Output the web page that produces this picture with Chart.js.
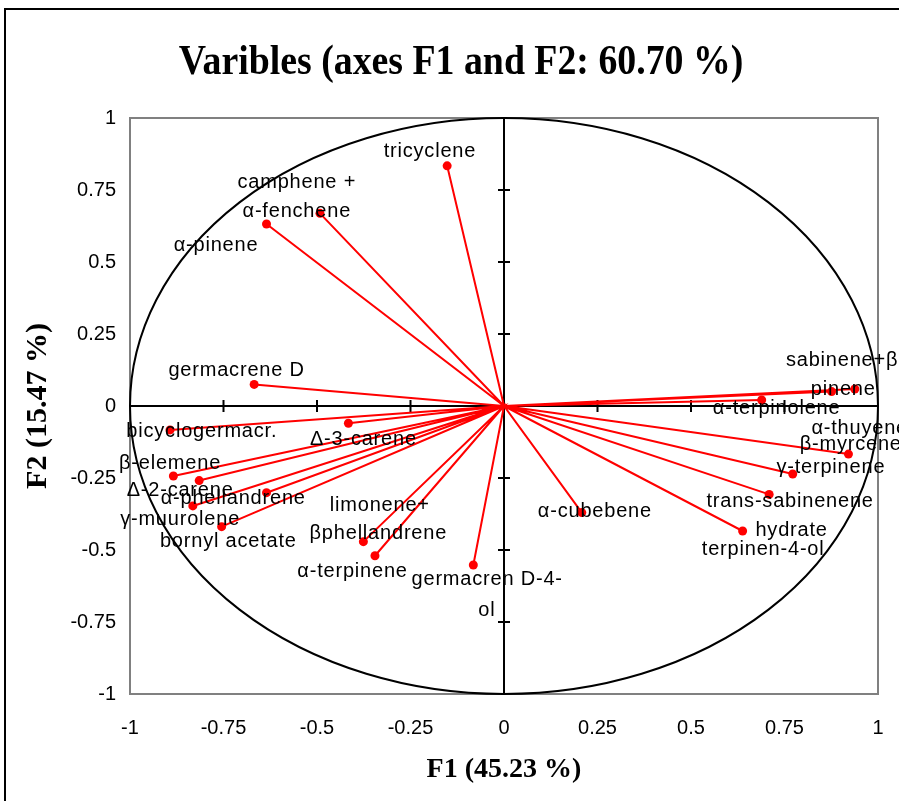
<!DOCTYPE html>
<html>
<head>
<meta charset="utf-8">
<script src="https://cdn.jsdelivr.net/npm/chart.js@4.4.1/dist/chart.umd.min.js"></script>
<style>
  html, body { margin: 0; padding: 0; background: #fff; }
</style>
</head>
<body>
<canvas id="pca" width="899" height="801"></canvas>
<script>
// loadings of each compound on the first two factors
const variables = [
  'tricyclene', 'camphene + α-fenchene', 'α-pinene', 'germacrene D',
  'bicyclogermacr.', 'Δ-3-carene', 'β-elemene', 'Δ-2-carene',
  'α-phellandrene', 'γ-muurolene', 'bornyl acetate', 'limonene+βphellandrene',
  'α-terpinene', 'germacren D-4-ol', 'α-cubebene', 'terpinen-4-ol',
  'trans-sabinenene hydrate', 'γ-terpinene', 'β-myrcene', 'α-thuyene',
  'sabinene+β-pinene', 'α-terpinolene'
];
const f1 = [
  -0.152, -0.492, -0.635, -0.668,
  -0.893, -0.416, -0.884, -0.815,
  -0.635, -0.832, -0.755, -0.376,
  -0.345, -0.082, 0.208, 0.638,
  0.709, 0.772, 0.921, 0.876,
  0.938, 0.689
];
const f2 = [
  0.834, 0.669, 0.632, 0.075,
  -0.083, -0.060, -0.243, -0.259,
  -0.301, -0.347, -0.419, -0.471,
  -0.520, -0.552, -0.370, -0.434,
  -0.307, -0.236, -0.167, 0.050,
  0.059, 0.021
];
const axisTicks = [-1, -0.75, -0.5, -0.25, 0, 0.25, 0.5, 0.75, 1];

// text of the point labels, one entry per line, with its centre in factor units
const labelLines = [
  'tricyclene', 'camphene +', 'α-fenchene', 'α-pinene', 'germacrene D',
  'bicyclogermacr.', 'Δ-3-carene', 'β-elemene', 'Δ-2-carene', 'α-phellandrene',
  'γ-muurolene', 'bornyl acetate', 'limonene+', 'βphellandrene', 'α-terpinene',
  'germacren D-4-', 'ol', 'α-cubebene', 'trans-sabinenene', 'hydrate',
  'terpinen-4-ol', 'γ-terpinene', 'β-myrcene', 'α-thuyene', 'sabinene+β-',
  'pinene', 'α-terpinolene'
];
const labelF1 = [
  -0.198, -0.554, -0.554, -0.770, -0.715,
  -0.808, -0.376, -0.893, -0.866, -0.724,
  -0.866, -0.737, -0.332, -0.336, -0.405,
  -0.045, -0.046, 0.243, 0.765, 0.769,
  0.693, 0.874, 0.927, 0.951, 0.914,
  0.907, 0.729
];
const labelF2 = [
  0.883, 0.775, 0.677, 0.557, 0.125,
  -0.089, -0.118, -0.199, -0.292, -0.320,
  -0.393, -0.471, -0.347, -0.442, -0.575,
  -0.604, -0.711, -0.367, -0.332, -0.433,
  -0.498, -0.215, -0.133, -0.078, 0.157,
  0.056, -0.008
];

const chartTitle = 'Varibles (axes F1 and F2: 60.70 %)';

// each vector goes out from the origin and back, so one dataset draws them all
const vectors = [];
f1.forEach((x, i) => {
  vectors.push({x: 0, y: 0});
  vectors.push({x: x, y: f2[i]});
});

const framePlugin = {
  id: 'frame',
  beforeDraw(chart) {
    const ctx = chart.ctx;
    ctx.save();
    ctx.fillStyle = '#fff';
    ctx.fillRect(0, 0, chart.width, chart.height);
    ctx.strokeStyle = '#000';
    ctx.lineWidth = 2;
    ctx.strokeRect(5, 9, 1000, 1000);
    ctx.fillStyle = '#000';
    ctx.font = 'bold 42px "Liberation Serif"';
    ctx.textAlign = 'center';
    ctx.textBaseline = 'middle';
    ctx.translate(461, 63);
    ctx.scale(0.9, 1);
    ctx.fillText(chartTitle, 0, 0);
    ctx.restore();
  },
  beforeDatasetsDraw(chart) {
    const {ctx, chartArea: a} = chart;
    const sx = chart.scales.x, sy = chart.scales.y;
    const cx = sx.getPixelForValue(0), cy = sy.getPixelForValue(0);
    ctx.save();
    // plot box
    ctx.strokeStyle = '#808080';
    ctx.lineWidth = 2;
    ctx.strokeRect(a.left, a.top, a.right - a.left, a.bottom - a.top);
    // correlation circle
    ctx.strokeStyle = '#000';
    ctx.beginPath();
    ctx.ellipse(cx, cy, sx.getPixelForValue(1) - cx, cy - sy.getPixelForValue(1), 0, 0, Math.PI * 2);
    ctx.stroke();
    // axes through the origin with cross ticks
    ctx.beginPath();
    ctx.moveTo(a.left, cy); ctx.lineTo(a.right, cy);
    ctx.moveTo(cx, a.top); ctx.lineTo(cx, a.bottom);
    axisTicks.forEach(v => {
      if (v === 0 || Math.abs(v) === 1) return;
      const px = sx.getPixelForValue(v), py = sy.getPixelForValue(v);
      ctx.moveTo(px, cy - 6); ctx.lineTo(px, cy + 6);
      ctx.moveTo(cx - 6, py); ctx.lineTo(cx + 6, py);
    });
    ctx.stroke();
    ctx.restore();
  },
  afterDatasetsDraw(chart) {
    const ctx = chart.ctx;
    const sx = chart.scales.x, sy = chart.scales.y;
    ctx.save();
    ctx.fillStyle = '#000';
    ctx.font = '20px "Liberation Sans"';
    ctx.letterSpacing = '0.8px';
    ctx.textAlign = 'center';
    ctx.textBaseline = 'middle';
    labelLines.forEach((t, i) => {
      ctx.fillText(t, sx.getPixelForValue(labelF1[i]), sy.getPixelForValue(labelF2[i]));
    });
    ctx.restore();
  }
};

const tickFont = {family: '"Liberation Sans"', size: 20};
const setTicks = s => { s.ticks = axisTicks.map(v => ({value: v})); };

new Chart(document.getElementById('pca').getContext('2d'), {
  type: 'scatter',
  data: {
    datasets: [{
      data: vectors,
      showLine: true,
      borderColor: '#ff0000',
      borderWidth: 2,
      backgroundColor: '#ff0000',
      pointBorderWidth: 0,
      pointRadius: c => (c.dataIndex % 2 ? 4.5 : 0),
      pointHoverRadius: 0
    }]
  },
  options: {
    responsive: false,
    animation: false,
    devicePixelRatio: 1,
    layout: {padding: {top: 118, right: 21, left: 0, bottom: 0}},
    plugins: {legend: {display: false}, tooltip: {enabled: false}},
    scales: {
      x: {
        min: -1, max: 1,
        afterBuildTicks: setTicks,
        afterFit: s => { s.height = 107; s.paddingLeft = 0; s.paddingRight = 0; },
        grid: {display: false, drawTicks: false},
        border: {display: false},
        ticks: {color: '#000', font: tickFont, padding: 22, maxRotation: 0, callback: v => String(v)},
        title: {
          display: true, text: 'F1 (45.23 %)', color: '#000',
          font: {family: '"Liberation Serif"', size: 28, weight: 'bold'},
          padding: {top: 0, bottom: 14}
        }
      },
      y: {
        min: -1, max: 1,
        afterBuildTicks: setTicks,
        afterFit: s => { s.width = 130; s.paddingTop = 0; s.paddingBottom = 0; },
        grid: {display: false, drawTicks: false},
        border: {display: false},
        ticks: {color: '#000', font: tickFont, padding: 14, callback: v => String(v)},
        title: {
          display: true, text: 'F2 (15.47 %)', color: '#000',
          font: {family: '"Liberation Serif"', size: 30, weight: 'bold'},
          padding: {top: 20, bottom: 0}
        }
      }
    }
  },
  plugins: [framePlugin]
});
</script>
</body>
</html>
